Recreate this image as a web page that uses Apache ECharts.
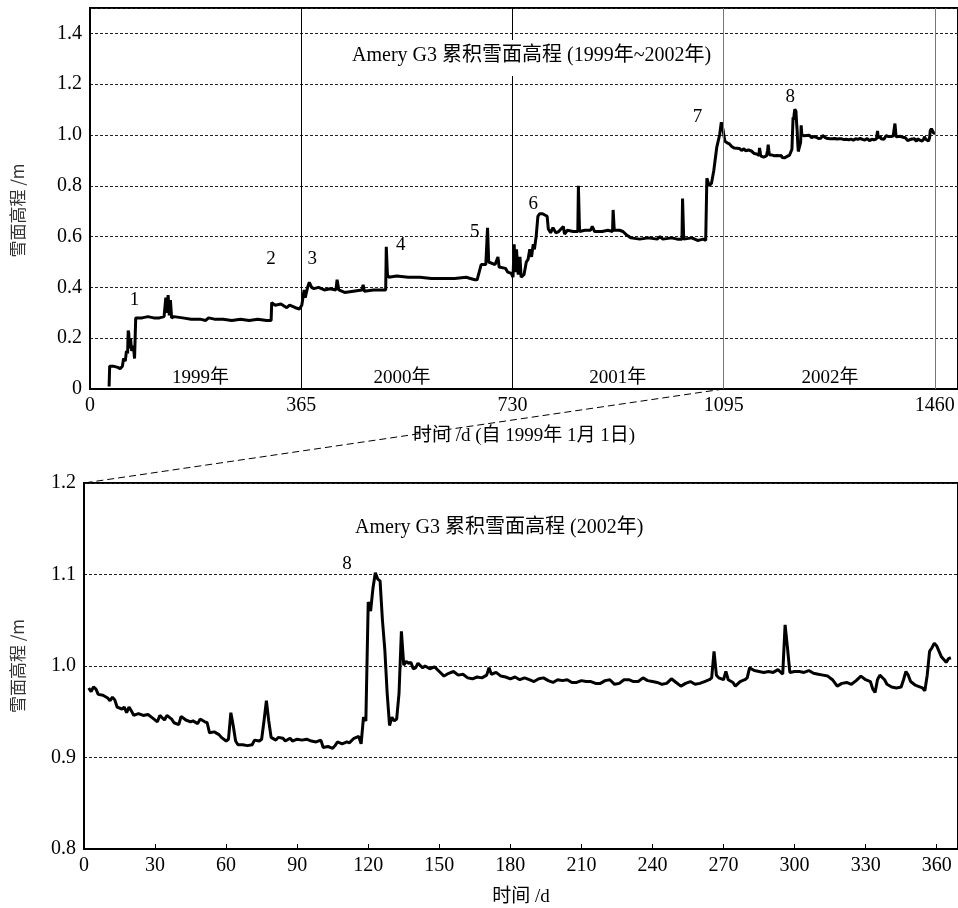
<!DOCTYPE html>
<html>
<head>
<meta charset="utf-8">
<script src="https://cdn.jsdelivr.net/npm/echarts@6/dist/echarts.min.js"></script>
<style>
  html, body { margin: 0; padding: 0; background: #fff; }
  #chart { width: 958px; height: 908px; }
</style>
</head>
<body>
<div id="chart"></div>
<script>
// 1999-2001 elevation, [day since 1999-01-01, metres]
const elev9901 = [
  [33,0.01],[34,0.09],[40,0.09],[48,0.085],[52,0.08],[56,0.09],[58,0.12],[61,0.11],[63,0.15],[65,0.14],
  [66,0.23],[67,0.22],[68,0.16],[70,0.2],[72,0.15],[75,0.17],[77,0.12],[78,0.2],[79,0.28],[82,0.285],
  [90,0.28],[100,0.285],[110,0.28],[120,0.28],[128,0.285],[130,0.28],[131,0.36],[133,0.3],[135,0.37],[137,0.29],
  [139,0.35],[141,0.28],[145,0.285],[160,0.28],[175,0.275],[190,0.275],[200,0.27],[205,0.28],[215,0.275],[230,0.275],
  [245,0.27],[260,0.275],[275,0.27],[290,0.275],[305,0.27],[313,0.27],[314,0.34],[320,0.33],[330,0.335],[340,0.32],
  [345,0.33],[355,0.32],[362,0.315],[366,0.33],[370,0.39],[372,0.36],[376,0.40],[379,0.42],[383,0.40],[387,0.395],
  [395,0.40],[405,0.39],[415,0.395],[425,0.39],[427,0.43],[430,0.39],[440,0.38],[455,0.385],[470,0.39],[472,0.41],
  [474,0.385],[490,0.39],[505,0.39],[511,0.39],[512,0.56],[514,0.45],[516,0.44],[530,0.445],[550,0.44],[570,0.44],
  [590,0.435],[610,0.435],[630,0.435],[650,0.44],[665,0.43],[669,0.43],[676,0.49],[684,0.49],[687,0.635],[689,0.50],
  [700,0.49],[705,0.52],[707,0.48],[718,0.475],[722,0.46],[728,0.455],[731,0.44],[733,0.57],[735,0.46],[737,0.55],
  [740,0.45],[743,0.52],[745,0.44],[750,0.45],[754,0.50],[757,0.51],[760,0.55],[763,0.52],[766,0.57],[768,0.55],
  [771,0.6],[774,0.68],[777,0.69],[782,0.69],[785,0.685],[790,0.68],[792,0.63],[796,0.615],[800,0.635],[805,0.615],
  [810,0.62],[818,0.64],[820,0.61],[825,0.625],[835,0.62],[843,0.62],[844,0.80],[846,0.62],[855,0.625],[865,0.625],
  [868,0.64],[872,0.62],[885,0.62],[895,0.625],[903,0.62],[904,0.705],[906,0.625],[915,0.625],[921,0.62],[928,0.605],
  [935,0.595],[950,0.59],[965,0.595],[980,0.59],[985,0.6],[990,0.59],[1005,0.595],[1015,0.59],[1023,0.59],[1024,0.75],
  [1026,0.59],[1040,0.595],[1050,0.585],[1060,0.59],[1064,0.585],[1066,0.83],[1070,0.80],[1074,0.81],[1078,0.86],[1083,0.95],
  [1088,1.0],[1091,1.05],[1094,1.02]
];

// 2002 elevation, [day of 2002, metres]
const elev2002 = [
  [2,0.976],[3,0.972],[4,0.977],[5,0.975],[6,0.969],[8,0.968],[10,0.965],[11,0.962],[12,0.966],[13,0.963],
  [14,0.955],[16,0.953],[17,0.955],[18,0.949],[19,0.955],[20,0.951],[21,0.946],[23,0.948],[25,0.946],[27,0.947],
  [29,0.943],[31,0.939],[32,0.946],[34,0.941],[35,0.946],[37,0.942],[38,0.938],[40,0.936],[41,0.945],[43,0.941],
  [45,0.939],[46,0.940],[48,0.937],[49,0.942],[51,0.939],[52,0.938],[53,0.927],[55,0.928],[57,0.925],[58,0.922],
  [60,0.918],[61,0.92],[62,0.949],[63,0.935],[64,0.918],[65,0.914],[67,0.914],[69,0.913],[71,0.914],[72,0.919],
  [74,0.918],[75,0.92],[76,0.94],[77,0.962],[78,0.94],[79,0.922],[81,0.919],[82,0.922],[84,0.921],[85,0.918],
  [87,0.921],[88,0.918],[90,0.92],[92,0.919],[94,0.92],[96,0.918],[98,0.917],[100,0.919],[101,0.911],[103,0.912],
  [105,0.91],[106,0.913],[107,0.917],[109,0.915],[111,0.917],[112,0.916],[114,0.921],[116,0.923],[117,0.915],[118,0.944],
  [119,0.94],[120,1.07],[121,1.06],[122,1.085],[123,1.102],[124,1.095],[125,1.093],[126,1.05],[127,1.018],[128,0.97],
  [129,0.935],[130,0.944],[131,0.94],[132,0.942],[133,0.97],[134,1.038],[135,1.001],[136,1.005],[137,1.003],[138,1.004],
  [139,0.997],[140,0.998],[141,1.003],[143,0.998],[144,1.0],[146,0.997],[148,0.999],[150,0.994],[152,0.989],[154,0.992],
  [156,0.994],[158,0.99],[160,0.991],[162,0.987],[164,0.986],[166,0.988],[168,0.987],[170,0.99],[171,0.998],[172,0.991],
  [174,0.993],[176,0.989],[178,0.988],[180,0.986],[182,0.988],[184,0.985],[186,0.987],[188,0.985],[190,0.983],[192,0.986],
  [194,0.987],[196,0.984],[198,0.982],[200,0.985],[202,0.984],[204,0.985],[206,0.982],[208,0.982],[210,0.984],[212,0.983],
  [214,0.983],[216,0.981],[218,0.981],[220,0.984],[222,0.985],[224,0.98],[226,0.981],[228,0.985],[230,0.985],[232,0.983],
  [234,0.983],[236,0.987],[238,0.984],[240,0.983],[242,0.982],[244,0.98],[246,0.981],[248,0.986],[250,0.982],[252,0.978],
  [254,0.981],[256,0.983],[258,0.98],[260,0.981],[262,0.983],[264,0.985],[265,0.987],[266,1.016],[267,0.99],[268,0.987],
  [270,0.985],[271,0.994],[272,0.985],[274,0.982],[275,0.978],[277,0.983],[279,0.985],[280,0.987],[281,0.998],[283,0.995],
  [285,0.994],[287,0.993],[289,0.994],[291,0.993],[293,0.996],[295,0.991],[296,1.045],[297,1.02],[298,0.993],[300,0.994],
  [302,0.994],[304,0.993],[306,0.995],[308,0.992],[310,0.991],[312,0.99],[314,0.989],[316,0.985],[318,0.978],[320,0.981],
  [322,0.982],[324,0.98],[326,0.984],[328,0.989],[330,0.985],[332,0.983],[333,0.975],[334,0.971],[335,0.985],[336,0.99],
  [338,0.985],[339,0.98],[341,0.977],[343,0.976],[345,0.977],[346,0.985],[347,0.994],[348,0.99],[349,0.983],[351,0.979],
  [352,0.978],[354,0.976],[355,0.973],[356,0.99],[357,1.016],[358,1.02],[359,1.025],[360,1.022],[361,1.016],[362,1.01],
  [363,1.007],[364,1.004],[365,1.008],[366,1.009]
];

// year boundaries in the top panel
const yearLines = [365, 730, 1095, 1460];
const yearLineColors = ['#000', '#000', '#777', '#777'];

// event numbers and year names, placed in data units
const topNotes = [
  ['1', 77, 0.35], ['2', 313, 0.51], ['3', 384, 0.51], ['4', 537, 0.565],
  ['5', 665, 0.62], ['6', 766, 0.73], ['7', 1050, 1.07], ['8', 1210, 1.15],
  ['1999年', 191, 0.043], ['2000年', 539, 0.043], ['2001年', 912, 0.043], ['2002年', 1279, 0.043]
];
const bottomNotes = [['8', 111, 1.111]];

const serif = "'Liberation Serif', 'Noto Sans CJK SC', serif";
const textStyle = { fontFamily: serif, fontSize: 20, color: '#000' };

const chart = echarts.init(document.getElementById('chart'));

const topLine = elev9901.concat(elev2002.map(p => [p[0] + 1095, p[1]]));

function noteSeries(notes, idx) {
  return {
    type: 'scatter', xAxisIndex: idx, yAxisIndex: idx, symbolSize: 0, silent: true, z: 5,
    itemStyle: { opacity: 1, color: '#000' },
    data: notes.map(n => ({ name: n[0], value: [n[1], n[2]] })),
    label: { show: true, position: 'inside', formatter: '{b}', ...textStyle, fontSize: 19 }
  };
}

const splitDots = { show: true, lineStyle: { color: '#222', type: [3, 2], width: 1 } };

chart.setOption({
  animation: false,
  title: [
    { text: 'Amery G3 累积雪面高程 (1999年~2002年)', left: 346, top: 40, padding: [6, 6, 10, 6],
      backgroundColor: '#fff', textStyle: { ...textStyle, fontWeight: 'normal' } },
    { text: 'Amery G3 累积雪面高程 (2002年)', left: 349, top: 512, padding: [6, 6, 6, 6],
      textStyle: { ...textStyle, fontWeight: 'normal' } }
  ],
  grid: [
    { left: 90, top: 8, right: -3, height: 381, show: true, borderColor: '#000', borderWidth: 2 },
    { left: 84, top: 483, right: -3, height: 370, show: true, borderColor: '#000', borderWidth: 2 }
  ],
  xAxis: [
    {
      gridIndex: 0, type: 'value', min: 0, max: 1500, interval: 365,
      name: '时间 /d (自 1999年 1月 1日)', nameLocation: 'middle', nameGap: 38,
      nameTextStyle: { ...textStyle, fontSize: 19 },
      axisLine: { lineStyle: { color: '#000', width: 2 } },
      axisTick: { show: false },
      axisLabel: { ...textStyle, margin: 7, showMaxLabel: false, formatter: v => String(v) },
      splitLine: { show: false }
    },
    {
      gridIndex: 1, type: 'value', min: 0, max: 369, interval: 30,
      name: '时间 /d', nameLocation: 'middle', nameGap: 39,
      nameTextStyle: { ...textStyle, fontSize: 19 },
      axisLine: { lineStyle: { color: '#000', width: 2 } },
      axisTick: { show: true, inside: true, length: 5, lineStyle: { color: '#000' } },
      axisLabel: { ...textStyle, margin: 7, showMaxLabel: false, formatter: v => String(v) },
      splitLine: { show: false }
    }
  ],
  yAxis: [
    {
      gridIndex: 0, type: 'value', min: 0, max: 1.5, interval: 0.2,
      name: '雪面高程 /m', nameLocation: 'middle', nameGap: 64, nameRotate: 90,
      nameTextStyle: { fontFamily: "'Noto Sans CJK SC', sans-serif", fontSize: 17, color: '#333', padding: [0, 24, 0, 0] },
      axisLine: { show: true, lineStyle: { color: '#000', width: 2 } },
      axisTick: { show: false },
      axisLabel: { ...textStyle, margin: 8, showMaxLabel: false, formatter: v => v === 0 ? '0' : v.toFixed(1) },
      splitLine: splitDots
    },
    {
      gridIndex: 1, type: 'value', min: 0.8, max: 1.2, interval: 0.1,
      name: '雪面高程 /m', nameLocation: 'middle', nameGap: 58, nameRotate: 90,
      nameTextStyle: { fontFamily: "'Noto Sans CJK SC', sans-serif", fontSize: 17, color: '#333' },
      axisLine: { show: true, lineStyle: { color: '#000', width: 2 } },
      axisTick: { show: false },
      axisLabel: { ...textStyle, margin: 8, formatter: v => v.toFixed(1) },
      splitLine: splitDots
    }
  ],
  series: [
    {
      type: 'line', xAxisIndex: 0, yAxisIndex: 0, data: topLine, showSymbol: false,
      lineStyle: { color: '#000', width: 3 },
      markLine: {
        silent: true, symbol: 'none', label: { show: false },
        data: yearLines.map((d, i) => ({ xAxis: d, lineStyle: { color: yearLineColors[i], width: 1, type: 'solid' } }))
      }
    },
    noteSeries(topNotes, 0),
    {
      type: 'line', xAxisIndex: 1, yAxisIndex: 1, data: elev2002, showSymbol: false,
      lineStyle: { color: '#000', width: 3 }
    },
    noteSeries(bottomNotes, 1)
  ]
});

// dashed zoom connector from the start of 2002 on the top panel to the bottom panel's corner
const a = chart.convertToPixel({ gridIndex: 0 }, [1095, 0]);
const b = chart.convertToPixel({ gridIndex: 1 }, [0, 1.2]);
chart.setOption({
  graphic: [{
    type: 'line', silent: true, z: 10,
    shape: { x1: a[0], y1: a[1], x2: b[0], y2: b[1] },
    style: { stroke: '#000', lineWidth: 1, lineDash: [7, 4] }
  }]
});
</script>
</body>
</html>
